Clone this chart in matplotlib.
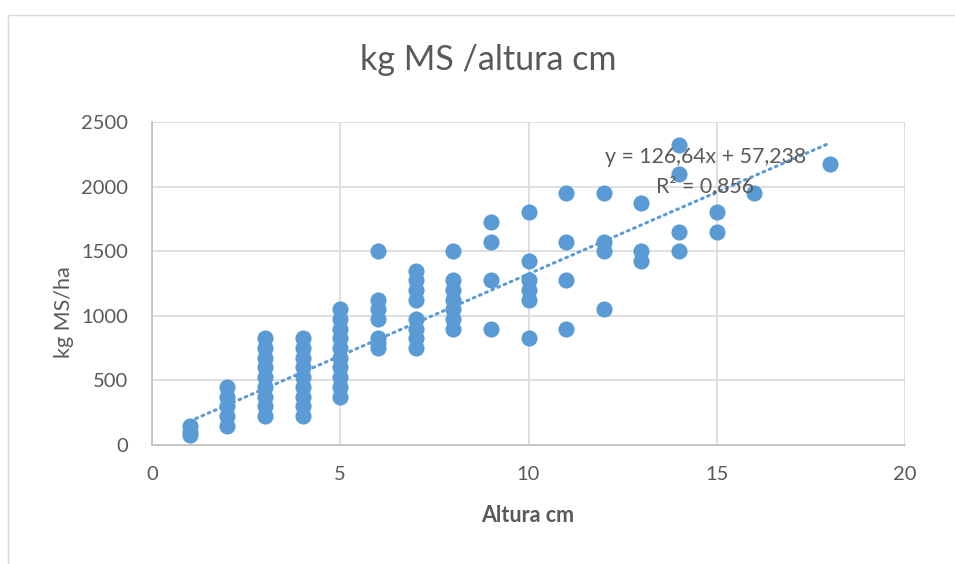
import numpy as np
import matplotlib
matplotlib.use("Agg")
import matplotlib.pyplot as plt
from matplotlib.patches import Rectangle

# datos: altura (cm) -> kg MS/ha
alt_1 = [1, 1, 1]
kg_1 = [75, 100, 150]
alt_2 = [2] * 5
kg_2 = [150, 225, 300, 375, 450]
alt_3 = [3] * 9
kg_3 = [225, 300, 375, 450, 525, 600, 675, 750, 825]
alt_4 = [4] * 9
kg_4 = [225, 300, 375, 450, 525, 600, 675, 750, 825]
alt_5 = [5] * 10
kg_5 = [375, 450, 525, 600, 675, 750, 825, 900, 975, 1050]
alt_6 = [6] * 7
kg_6 = [750, 788, 825, 975, 1050, 1125, 1500]
alt_7 = [7] * 8
kg_7 = [750, 825, 900, 975, 1125, 1200, 1275, 1350]
alt_8 = [8] * 7
kg_8 = [900, 975, 1050, 1125, 1200, 1275, 1500]
alt_9 = [9] * 4
kg_9 = [900, 1275, 1575, 1725]
alt_10 = [10] * 6
kg_10 = [825, 1125, 1200, 1275, 1425, 1800]
alt_11 = [11] * 4
kg_11 = [900, 1275, 1575, 1950]
alt_12 = [12] * 4
kg_12 = [1050, 1500, 1575, 1950]
alt_13 = [13] * 3
kg_13 = [1425, 1500, 1875]
alt_14 = [14] * 4
kg_14 = [1500, 1650, 2100, 2325]
alt_15 = [15, 15]
kg_15 = [1650, 1800]
alt_16 = [16]
kg_16 = [1950]
alt_18 = [18]
kg_18 = [2175]

altura = np.array(alt_1 + alt_2 + alt_3 + alt_4 + alt_5 + alt_6 + alt_7 + alt_8
                  + alt_9 + alt_10 + alt_11 + alt_12 + alt_13 + alt_14 + alt_15
                  + alt_16 + alt_18, dtype=float)
kg_ms = np.array(kg_1 + kg_2 + kg_3 + kg_4 + kg_5 + kg_6 + kg_7 + kg_8
                 + kg_9 + kg_10 + kg_11 + kg_12 + kg_13 + kg_14 + kg_15
                 + kg_16 + kg_18, dtype=float)

# tendencia lineal publicada en el gráfico
pendiente, ordenada, r2 = 126.64, 57.238, 0.856

azul = "#5b9bd5"
gris_txt = "#595959"
plt.rcParams["font.family"] = ["Lato", "DejaVu Sans"]

fig = plt.figure(figsize=(9.55, 5.64), dpi=100)
fig.patches.append(Rectangle((8 / 955, -0.01), 1.0, 1 - 15 / 564 + 0.01,
                             transform=fig.transFigure, fill=False,
                             edgecolor="#d9d9d9", linewidth=1))
ax = fig.add_axes([152 / 955, 1 - 445 / 564, 753 / 955, 323 / 564])

ax.scatter(altura, kg_ms, s=135, color=azul, zorder=3, linewidths=0)
xt = np.array([altura.min(), altura.max()])
ax.plot(xt, pendiente * xt + ordenada, linestyle=(0, (0.6, 1.6)),
        dash_capstyle="round", color=azul, linewidth=2.2, zorder=4)

ax.set_xlim(0, 20)
ax.set_ylim(0, 2500)
ax.set_xticks(range(0, 21, 5))
ax.set_yticks(range(0, 2501, 500))
ax.grid(True, color="#d9d9d9", linewidth=1.2, zorder=0)
ax.set_axisbelow(True)
for s in ["top", "right"]:
    ax.spines[s].set_visible(False)
for s in ["left", "bottom"]:
    ax.spines[s].set_color("#bfbfbf")
    ax.spines[s].set_linewidth(1.2)
ax.tick_params(length=0, labelsize=14.5, labelcolor=gris_txt)
ax.tick_params(axis="y", pad=17)
ax.tick_params(axis="x", pad=15)

fig.text(528 / 955, 1 - 516 / 564, "Altura cm", fontsize=15.5,
         fontweight="bold", color=gris_txt, ha="center", va="center")
fig.text(64 / 955, 1 - 312 / 564, "kg MS/ha", fontsize=15.5, rotation=90,
         color=gris_txt, ha="center", va="center")
fig.text(488 / 955, 1 - 60 / 564, "kg MS /altura cm", fontsize=24.5,
         color=gris_txt, ha="center", va="center")

ax.text(14.7, 2229, "y = 126,64x + 57,238", fontsize=15.3, color=gris_txt,
        ha="center", va="center", zorder=5)
ax.text(14.7, 2005, "R² = 0,856", fontsize=15.3, color=gris_txt,
        ha="center", va="center", zorder=5)

fig.savefig("out.png", dpi=100)
